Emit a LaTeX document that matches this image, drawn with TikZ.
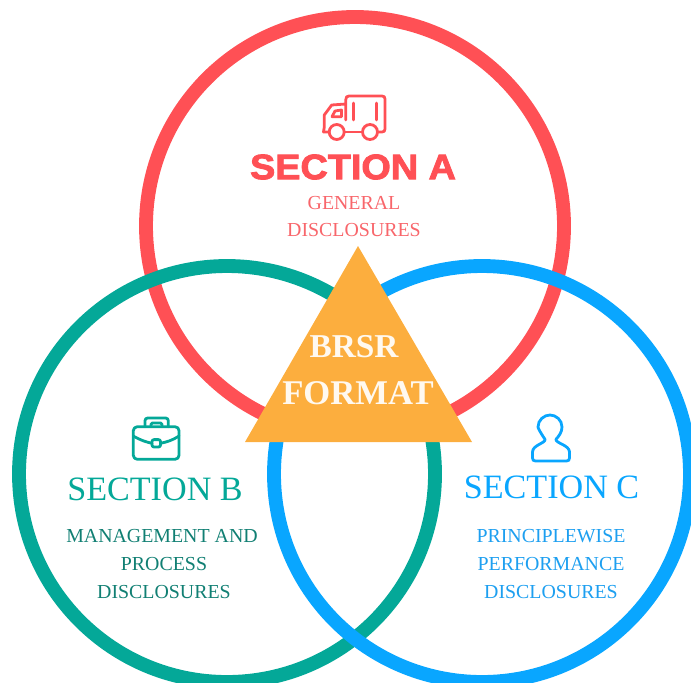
\documentclass[tikz,border=0pt]{standalone}
\usepackage{fontspec}
\setmainfont{Liberation Serif}
\newfontfamily\heavyfont[FakeBold=2.4,FakeStretch=1.07]{Liberation Sans Bold}
\definecolor{cred}{HTML}{FF5055}
\definecolor{cgreen}{HTML}{04A898}
\definecolor{cblue}{HTML}{09A6FF}
\definecolor{corange}{HTML}{FCAE3E}
\definecolor{tgreen}{HTML}{117F73}
\definecolor{tblue}{HTML}{1D9FF0}
\definecolor{tred}{HTML}{F8666B}
\definecolor{cream}{HTML}{FFF9F0}
\tikzset{
  ring/.style={line width=10.4pt},
  icon/.style={line width=2.1pt,line join=round,line cap=round},
  bigtitle/.style={inner sep=0pt,font=\fontsize{25.6}{30}\selectfont},
  small/.style={inner sep=0pt,font=\fontsize{14.9}{17}\selectfont},
  center label/.style={inner sep=0pt,text=cream,font=\fontsize{25}{28}\selectfont\bfseries}
}
\begin{document}
\begin{tikzpicture}[x=0.75pt,y=-0.75pt]
\useasboundingbox (0,0) rectangle (691,682);
\begin{scope}
\clip (0,0) rectangle (691,682);
\draw[ring,cred] (355,226) circle[radius=209];
\draw[ring,cgreen] (227,474) circle[radius=208];
\draw[ring,cblue] (482,474) circle[radius=208];
\end{scope}
\fill[corange] (358,246) -- (472,442) -- (245,442) -- cycle;
% truck
\begin{scope}[icon,draw=cred]
\draw (345.7,104) -- (345.7,100) .. controls (345.7,97) and (347,96) .. (349,96) -- (382,96) .. controls (384,96) and (385,97) .. (385,99) -- (385,129) .. controls (385,131) and (384,132) .. (382,132) -- (377.5,132);
\draw (362.5,132) -- (344.2,132);
\draw (329.2,132) -- (323.5,132) -- (324.3,127) -- (324.3,115) -- (331.7,105) -- (345.7,104) -- (345.7,120);
\draw (370,132) circle[radius=7.5];
\draw (336.7,132) circle[radius=7.5];
\draw (332,116.7) -- (335,111) -- (341.5,110) -- (341.5,116.7) -- cycle;
\draw (353.3,103) -- (353.3,120);
\draw (376.7,103) -- (376.7,120);
\end{scope}
% briefcase
\begin{scope}[icon,draw=cgreen]
\draw[rounded corners=3pt] (133.3,426.7) rectangle (179,459.3);
\draw[rounded corners=2pt] (145,426.7) -- (145,418) -- (168.3,418) -- (168.3,426.7);
\draw[rounded corners=1pt] (151,426.7) -- (151,423) -- (162,423) -- (162,426.7);
\draw (133.3,436) .. controls (140,440) and (146,442) .. (152,443.3);
\draw (160.5,443.3) .. controls (167,442) and (173,440) .. (179,436);
\draw[rounded corners=1.5pt] (152,439.6) rectangle (160.5,447);
\end{scope}
% person
\draw[icon,cblue] (545,439.3) .. controls (540,432) and (538,428) .. (538,427)
  .. controls (538,420) and (544,415) .. (550,415)
  .. controls (556,415) and (562,420) .. (562,427)
  .. controls (562,432) and (559,436) .. (556,439.3)
  .. controls (555,443) and (569.5,445) .. (569.5,452)
  -- (569.5,458) .. controls (569.5,460) and (568.5,461) .. (566.5,461)
  -- (535.5,461) .. controls (533.5,461) and (532.5,460) .. (532.5,458)
  -- (532.5,452) .. controls (532.5,445) and (546,443) .. (545,439.3) -- cycle;
% text
\node[inner sep=0pt,text=cred,font=\heavyfont\fontsize{26.5}{30}\selectfont] (secA) at (353,167) {SECTION A};
\node[small,text=tred] (genA) at (354,203) {GENERAL};
\node[small,text=tred] (disA) at (354,230) {DISCLOSURES};
\node[bigtitle,text=cgreen] (secB) at (155,489) {SECTION B};
\node[small,text=tgreen] (mgB) at (162,536) {MANAGEMENT AND};
\node[small,text=tgreen] (prB) at (164,564) {PROCESS};
\node[small,text=tgreen] (disB) at (164,592) {DISCLOSURES};
\node[bigtitle,text=cblue] (secC) at (551.5,487) {SECTION C};
\node[small,text=tblue] (prC) at (551,536) {PRINCIPLEWISE};
\node[small,text=tblue] (peC) at (551,564) {PERFORMANCE};
\node[small,text=tblue] (disC) at (551,592) {DISCLOSURES};
\node[center label] (brsr) at (354,347) {BRSR};
\node[center label,font=\fontsize{26}{28}\selectfont\bfseries] (fmt) at (358,393) {FORMAT};
\end{tikzpicture}
\end{document}
